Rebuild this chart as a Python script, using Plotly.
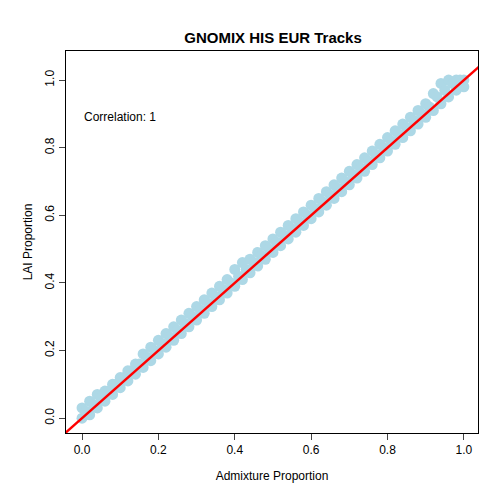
import plotly.graph_objects as go

# admixture proportion vs LAI proportion
x_even = [0.00, 0.02, 0.04, 0.06, 0.08, 0.10, 0.12, 0.14, 0.16, 0.18, 0.20, 0.22, 0.24, 0.26, 0.28, 0.30, 0.32,
          0.34, 0.36, 0.38, 0.40, 0.42, 0.44, 0.46, 0.48, 0.50, 0.52, 0.54, 0.56, 0.58, 0.60, 0.62, 0.64, 0.66,
          0.68, 0.70, 0.72, 0.74, 0.76, 0.78, 0.80, 0.82, 0.84, 0.86, 0.88, 0.90, 0.92, 0.94, 0.96, 0.98, 1.00]
y_hi = [0.03, 0.05, 0.07, 0.08, 0.10, 0.12, 0.14, 0.16, 0.19, 0.21, 0.23, 0.25, 0.27, 0.29, 0.31, 0.33, 0.35,
        0.37, 0.39, 0.41, 0.44, 0.46, 0.47, 0.49, 0.51, 0.53, 0.55, 0.57, 0.59, 0.61, 0.63, 0.65, 0.67, 0.69,
        0.71, 0.73, 0.75, 0.77, 0.79, 0.81, 0.83, 0.85, 0.87, 0.89, 0.91, 0.93, 0.96, 0.99, 1.00, 1.00, 1.00]
y_lo = [0.00, 0.01, 0.03, 0.05, 0.07, 0.09, 0.11, 0.13, 0.15, 0.17, 0.19, 0.21, 0.23, 0.25, 0.27, 0.29, 0.31,
        0.33, 0.35, 0.37, 0.39, 0.41, 0.43, 0.45, 0.47, 0.49, 0.51, 0.53, 0.55, 0.57, 0.59, 0.61, 0.63, 0.65,
        0.67, 0.69, 0.71, 0.73, 0.75, 0.77, 0.79, 0.81, 0.83, 0.85, 0.87, 0.89, 0.91, 0.93, 0.95, 0.97, 0.98]
x_odd = [0.01, 0.03, 0.05, 0.07, 0.09, 0.11, 0.13, 0.15, 0.17, 0.19, 0.21, 0.23, 0.25, 0.27, 0.29, 0.31, 0.33,
         0.35, 0.37, 0.39, 0.41, 0.43, 0.45, 0.47, 0.49, 0.51, 0.53, 0.55, 0.57, 0.59, 0.61, 0.63, 0.65, 0.67,
         0.69, 0.71, 0.73, 0.75, 0.77, 0.79, 0.81, 0.83, 0.85, 0.87, 0.89, 0.91, 0.93, 0.95, 0.97, 0.99]
y_odd = [0.02, 0.04, 0.06, 0.08, 0.10, 0.12, 0.14, 0.16, 0.18, 0.20, 0.22, 0.24, 0.26, 0.28, 0.30, 0.32, 0.34,
         0.36, 0.38, 0.40, 0.42, 0.44, 0.46, 0.48, 0.50, 0.52, 0.54, 0.56, 0.58, 0.60, 0.62, 0.64, 0.66, 0.68,
         0.70, 0.72, 0.74, 0.76, 0.78, 0.80, 0.82, 0.84, 0.86, 0.88, 0.90, 0.92, 0.95, 0.97, 0.99, 1.00]
line_ends = [-0.1, 1.1]

xs = x_even + x_even + x_odd
ys = y_hi + y_lo + y_odd

fig = go.Figure()
fig.add_trace(go.Scatter(x=xs, y=ys, mode="markers",
                         marker=dict(color="#ADD8E6", size=11, line=dict(width=0))))
fig.add_trace(go.Scatter(x=line_ends, y=line_ends, mode="lines",
                         line=dict(color="#FF0000", width=2.5)))

fig.add_annotation(x=0.0, y=0.89, text="Correlation: 1", showarrow=False,
                   xanchor="left", font=dict(size=12, color="black"))

ax = dict(showline=True, linecolor="black", mirror=True, ticks="outside", ticklen=6,
          showgrid=False, zeroline=False, tickfont=dict(size=12, color="black"),
          dtick=0.2, tickformat=".1f", automargin=False)
fig.update_layout(
    width=500, height=500, showlegend=False,
    plot_bgcolor="white", paper_bgcolor="white",
    font=dict(family="Liberation Sans, Arial", color="black"),
    title=dict(text="<b>GNOMIX HIS EUR Tracks</b>", x=0.53, xanchor="center",
               y=0.94, yanchor="middle", yref="container", font=dict(size=15), automargin=False),
    margin=dict(l=58, r=30, t=43, b=75),
    xaxis=dict(ax, range=[-0.042, 1.037], title=dict(text="Admixture Proportion", font=dict(size=12))),
    yaxis=dict(ax, range=[-0.044, 1.086], tickangle=-90,
               title=dict(text="LAI Proportion", font=dict(size=12), standoff=8)),
)
fig.write_html("out.html")
